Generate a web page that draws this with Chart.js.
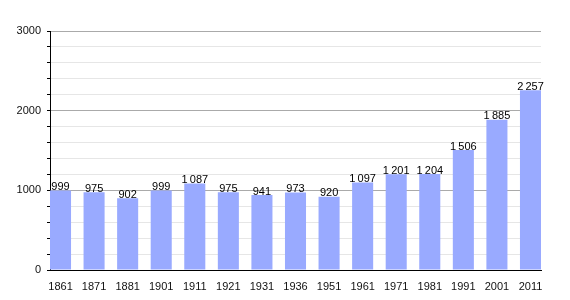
<!DOCTYPE html>
<html>
<head>
<meta charset="utf-8">
<script src="https://cdn.jsdelivr.net/npm/chart.js@4/dist/chart.umd.min.js"></script>
<style>
  html, body { margin: 0; padding: 0; background: #fff; }
  #wrap { width: 570px; height: 300px; }
</style>
</head>
<body>
<div id="wrap"><canvas id="chart" width="570" height="300"></canvas></div>
<script>
const years = ['1861', '1871', '1881', '1901', '1911', '1921', '1931', '1936', '1951', '1961', '1971', '1981', '1991', '2001', '2011'];
const population = [999, 975, 902, 999, 1087, 975, 941, 973, 920, 1097, 1201, 1204, 1506, 1885, 2257];
const yTicks = [0, 1000, 2000, 3000];

const fmt = (v) => String(v).replace(/\B(?=(\d{3})+(?!\d))/g, '\u2009');

// value labels on top of bars
const barLabels = {
    id: 'barLabels',
    afterDatasetsDraw(chart) {
        let ctx = chart.ctx;
        let meta = chart.getDatasetMeta(0);
        ctx.save();
        ctx.font = '11px "Liberation Sans", Arial, sans-serif';
        ctx.fillStyle = '#000';
        ctx.textAlign = 'center';
        ctx.textBaseline = 'bottom';
        meta.data.forEach((bar, i) => {
            ctx.fillText(fmt(population[i]), bar.x, bar.y + 2);
        });
        ctx.restore();
    }
};

const config = {
    type: 'bar',
    data: {
        datasets: [{
            data: population.map((v, i) => ({ x: i, y: v })),
            backgroundColor: '#99aaff',
            borderWidth: 0,
            barPercentage: 0.627,
            categoryPercentage: 1
        }]
    },
    options: {
        responsive: false,
        animation: false,
        layout: { padding: { top: 31, right: 29, left: 0, bottom: 0 } },
        plugins: { legend: { display: false }, tooltip: { enabled: false } },
        scales: {
            x: {
                type: 'linear',
                offset: false,
                bounds: 'data',
                min: -0.313,
                max: 14.313,
                afterBuildTicks: (scale) => { scale.ticks = years.map((_, i) => ({ value: i })); },
                afterFit: (scale) => { scale.height = 30; },
                ticks: {
                    autoSkip: false,
                    maxRotation: 0,
                    padding: 2,
                    color: '#111',
                    font: { family: '"Liberation Sans", Arial, sans-serif', size: 11 },
                    callback: (v) => years[v]
                },
                grid: { display: false },
                border: { display: true, color: '#000', width: 1 }
            },
            y: {
                min: 0,
                max: 3000,
                afterBuildTicks: (scale) => {
                    let t = [];
                    for (let v = 0; v <= 3000; v += 200) t.push({ value: v });
                    scale.ticks = t;
                },
                afterFit: (scale) => { scale.width = 50; },
                ticks: {
                    autoSkip: false,
                    padding: 6,
                    color: '#111',
                    font: { family: '"Liberation Sans", Arial, sans-serif', size: 11 },
                    callback: (v) => yTicks.includes(v) ? String(v) : ''
                },
                grid: {
                    color: (c) => c.tick && c.tick.value % 1000 === 0 ? '#aaaaaa' : '#e6e6e6',
                    tickColor: '#000',
                    tickLength: 3
                },
                border: { display: true, color: '#000', width: 1 }
            }
        }
    },
    plugins: [barLabels]
};

new Chart(document.getElementById('chart'), config);
</script>
</body>
</html>
